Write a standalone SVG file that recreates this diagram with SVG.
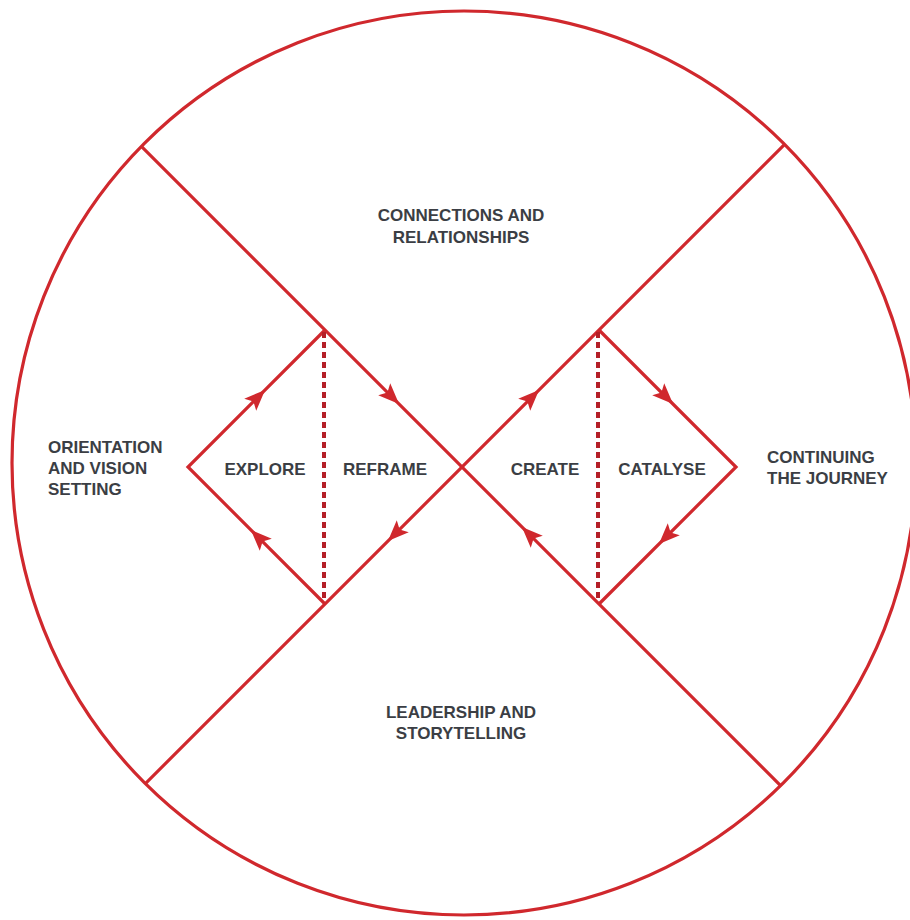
<svg xmlns="http://www.w3.org/2000/svg" width="910" height="920" viewBox="0 0 910 920">
  <style>
    .ln { fill: none; stroke: #d0282d; stroke-width: 3.2; stroke-linejoin: miter; }
    .dash { fill: none; stroke: #b41f27; stroke-width: 4; stroke-dasharray: 6 4; }
    .ah { fill: #d0282d; }
    text { font-family: "Liberation Sans", Arial, sans-serif; font-weight: bold; font-size: 17px; fill: #3b3e44; }
    .c { text-anchor: middle; }
  </style>
  <defs>
    <path id="arrow" class="ah" d="M10,0 L-11,-8.5 L-6.5,0 L-11,8.5 Z"/>
  </defs>
  <rect width="910" height="920" fill="#ffffff"/>

  <g id="circle">
    <circle class="ln" cx="464" cy="463" r="452"/>
  </g>

  <g id="connectors">
    <line class="ln" x1="141.4" y1="146.4" x2="780.6" y2="785.6"/>
    <line class="ln" x1="784.6" y1="144.4" x2="145.4" y2="783.6"/>
    <polyline class="ln" points="325,330 188,467 325,604"/>
    <polyline class="ln" points="599,330 736,467 599,604"/>
    <line class="dash" x1="324" y1="332" x2="324" y2="602"/>
    <line class="dash" x1="598" y1="332" x2="598" y2="602"/>
    <use href="#arrow" transform="translate(258,397) rotate(-45)"/>
    <use href="#arrow" transform="translate(392,397) rotate(45)"/>
    <use href="#arrow" transform="translate(395,534) rotate(135)"/>
    <use href="#arrow" transform="translate(258,537) rotate(-135)"/>
    <use href="#arrow" transform="translate(532,397) rotate(-45)"/>
    <use href="#arrow" transform="translate(666,397) rotate(45)"/>
    <use href="#arrow" transform="translate(666,537) rotate(135)"/>
    <use href="#arrow" transform="translate(529,534) rotate(-135)"/>
  </g>

  <g id="connections">
    <text class="c" x="461" y="221">CONNECTIONS AND</text>
    <text class="c" x="461" y="243">RELATIONSHIPS</text>
  </g>
  <g id="leadership">
    <text class="c" x="461" y="718">LEADERSHIP AND</text>
    <text class="c" x="461" y="739">STORYTELLING</text>
  </g>
  <g id="orientation">
    <text x="48" y="453">ORIENTATION</text>
    <text x="48" y="474">AND VISION</text>
    <text x="48" y="495">SETTING</text>
  </g>
  <g id="continuing">
    <text x="767" y="463">CONTINUING</text>
    <text x="767" y="484">THE JOURNEY</text>
  </g>
  <g id="explore"><text class="c" x="265" y="475">EXPLORE</text></g>
  <g id="reframe"><text class="c" x="385" y="475">REFRAME</text></g>
  <g id="create"><text class="c" x="545" y="475">CREATE</text></g>
  <g id="catalyse"><text class="c" x="662" y="475">CATALYSE</text></g>
</svg>
